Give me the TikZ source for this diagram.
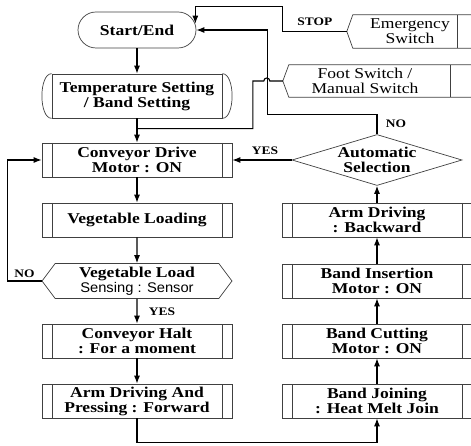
\documentclass[tikz,border=0pt]{standalone}
\usepackage{fontspec}
\setmainfont{Liberation Serif}[FakeStretch=1.17]
\newfontfamily\sensorfont{Liberation Sans}[FakeStretch=1.05]
\usetikzlibrary{shapes.geometric, shapes.symbols, arrows.meta, positioning}
\newcommand{\Texto}{\fontsize{15}{15}\selectfont}
\newcommand{\Chico}{\fontsize{11.5}{12}\selectfont\bfseries}
\tikzstyle{flecha} = [line width=1.1pt,->,>={Latex[length=8pt,width=6pt]}]
\tikzstyle{linea} = [line width=1.1pt]
\tikzstyle{borde} = [draw=black!75, line width=0.7pt]
\tikzstyle{etiqueta} = [font=\Chico]
\tikzstyle{inicio} = [rectangle,
                      rounded corners=18pt,
                      minimum width=118pt,
                      minimum height=36pt,
                      borde,
                      font=\Texto\bfseries]
\tikzstyle{proceso} = [rectangle,
                       minimum width=190pt,
                       minimum height=34pt,
                       inner sep=1pt,
                       align=center,
                       borde,
                       font=\Texto\bfseries,
                       path picture={
                         \draw[borde] ([xshift=10pt]path picture bounding box.north west) -- ([xshift=10pt]path picture bounding box.south west);
                         \draw[borde] ([xshift=-10pt]path picture bounding box.north east) -- ([xshift=-10pt]path picture bounding box.south east);
                       }]
\tikzstyle{preparacion} = [rectangle,
                           minimum width=170pt,
                           minimum height=44pt,
                           inner sep=1pt,
                           align=center,
                           borde,
                           font=\Texto\bfseries]
\tikzstyle{sensado} = [signal,
                       signal to=west and east,
                       signal pointer angle=106,
                       minimum width=190pt,
                       minimum height=35pt,
                       inner sep=1pt,
                       align=center,
                       borde,
                       font=\Texto\bfseries]
\tikzstyle{decision} = [diamond,
                        aspect=3.33,
                        minimum width=170pt,
                        minimum height=51pt,
                        inner sep=0pt,
                        align=center,
                        borde,
                        font=\Texto\bfseries]
\tikzstyle{interruptor} = [rectangle,
                           inner sep=0pt,
                           align=center,
                           font=\Texto]

\begin{document}
\begin{tikzpicture}[x=1pt, y=1pt, node distance=60pt]
        \useasboundingbox (0,0) rectangle (471,-446);
        \clip (0,0) rectangle (471,-446);

        % left column
        \node (Inicio) [inicio] at (137,-30) {Start/End};
        \node (Temp) [preparacion, below of=Inicio, yshift=-6pt] {Temperature Setting\\/ Band Setting};
        \node (Conv) [proceso, below of=Temp, yshift=-4pt] {Conveyor Drive\\Motor : ON};
        \node (Carga) [proceso, below of=Conv] {Vegetable Loading};
        \node (Sensor) [sensado, below of=Carga, yshift=-1pt] {Vegetable Load\\{\sensorfont\mdseries\fontsize{14}{15}\selectfont Sensing : Sensor}};
        \node (Parada) [proceso, below of=Sensor] {Conveyor Halt\\: For a moment};
        \node (Brazo) [proceso, below of=Parada] {Arm Driving And\\Pressing : Forward};

        % right column
        \node (Union) [proceso, right of=Brazo, xshift=180pt] {Band Joining\\: Heat Melt Join};
        \node (Corte) [proceso, above of=Union] {Band Cutting\\Motor : ON};
        \node (Insercion) [proceso, above of=Corte] {Band Insertion\\Motor : ON};
        \node (Retroceso) [proceso, above of=Insercion, yshift=1pt] {Arm Driving\\: Backward};
        \node (Seleccion) [decision, above of=Retroceso] {Automatic\\Selection};

        % switches
        \node (Emergencia) [interruptor, minimum width=114pt, minimum height=33pt] at (410,-31.5) {Emergency\\Switch};
        \node (Pedal) [interruptor, minimum width=152pt, minimum height=32pt] at (365,-81) {Foot Switch /\\Manual Switch};
        \coordinate (PuntaEm) at ([xshift=-6pt]Emergencia.west);
        \coordinate (PuntaPie) at ([xshift=-6pt]Pedal.west);
        \draw [borde] ([xshift=30pt]Emergencia.north east) -- (Emergencia.north west) -- (PuntaEm)
                      -- (Emergencia.south west) -- ([xshift=30pt]Emergencia.south east);
        \draw [borde] ([xshift=-10pt]Emergencia.north east) -- ([xshift=-10pt]Emergencia.south east);
        \draw [borde] ([xshift=50pt]Pedal.north east) -- (Pedal.north west) -- (PuntaPie)
                      -- (Pedal.south west) -- ([xshift=50pt]Pedal.south east);
        \draw [borde] ([xshift=9pt]Pedal.north east) -- ([xshift=9pt]Pedal.south east);

        % bulged sides of the setting box
        \draw [borde] (Temp.north west) .. controls ([xshift=-13pt]Temp.north west) and ([xshift=-13pt]Temp.south west) .. (Temp.south west);
        \draw [borde] (Temp.north east) .. controls ([xshift=13pt]Temp.north east) and ([xshift=13pt]Temp.south east) .. (Temp.south east);

        \draw [flecha] (Inicio) -- (Temp);
        \draw [flecha] (Temp) -- (Conv);
        \draw [flecha] (Conv) -- (Carga);
        \draw [flecha] (Carga) -- (Sensor);
        \draw [flecha] (Sensor) -- node[etiqueta, right, xshift=8pt] {YES} (Parada);
        \draw [flecha] (Parada) -- (Brazo);
        \draw [flecha] (Brazo.south) -- ++(0,-24pt) -| (Union.south);
        \draw [flecha] (Union) -- (Corte);
        \draw [flecha] (Corte) -- (Insercion);
        \draw [flecha] (Insercion) -- (Retroceso);
        \draw [flecha] (Retroceso) -- (Seleccion);
        \draw [flecha] (Seleccion.west) -- node[etiqueta, above, pos=0.45, yshift=2pt] {YES} (Conv.east);
        \draw [flecha] (Sensor.west) -- node[etiqueta, above] {NO} ++(-34pt,0) |- (Conv.west);
        \draw [flecha] (Seleccion.north) -- node[etiqueta, right, xshift=5pt] {NO} ++(0,20pt)
                       -| ([xshift=71pt]Inicio.east) -- (Inicio.east);
        \draw [flecha] (PuntaEm) -- node[etiqueta, above, yshift=2pt] {STOP} ++(-64pt,0)
                       |- ([xshift=-1pt,yshift=5pt]Inicio.north east) -- ([xshift=-1pt,yshift=-12pt]Inicio.north east);
        \draw [linea] (PuntaPie) -- ++(-13pt,0) arc[start angle=0, end angle=180, radius=3pt]
                      -- ++(-11pt,0) |- ([yshift=14pt]Conv.north);
    \end{tikzpicture}
\end{document}
